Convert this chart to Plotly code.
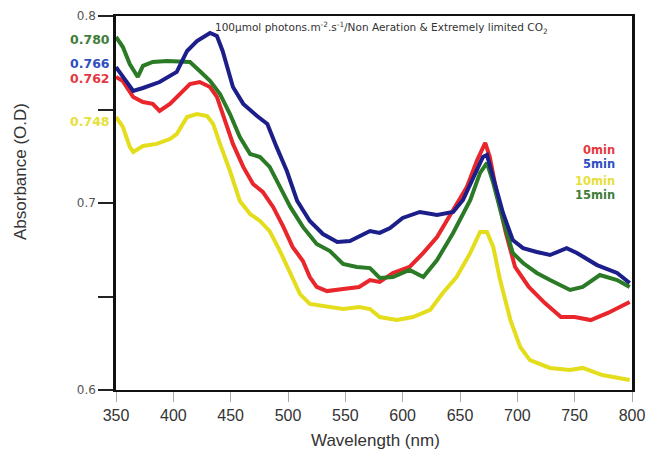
import plotly.graph_objects as go

# Wavelength (nm) / absorbance readings per series
wl_0min = [350, 356, 365, 373.5, 382, 388, 397, 406, 414.5, 423, 432, 438, 443, 452, 461, 469.5, 478, 487, 496, 504, 513, 519, 525, 534, 548, 562, 571.5, 580, 591.5, 606, 618, 630, 644, 656, 665, 672, 676, 682, 690, 698, 710, 724, 738, 750, 764, 779, 798]
abs_0min = [0.7674, 0.7652, 0.7567, 0.7540, 0.7530, 0.7492, 0.7530, 0.7583, 0.7636, 0.7647, 0.7620, 0.7567, 0.7476, 0.7316, 0.7193, 0.7102, 0.7059, 0.6979, 0.6872, 0.6765, 0.6690, 0.6604, 0.6551, 0.6529, 0.6540, 0.6551, 0.6588, 0.6578, 0.6626, 0.6658, 0.6733, 0.6818, 0.6963, 0.7086, 0.7230, 0.7321, 0.7246, 0.7054, 0.6840, 0.6658, 0.6551, 0.6465, 0.6390, 0.6390, 0.6374, 0.6412, 0.6471]

wl_5min = [350, 356, 365, 373.5, 388, 403, 412, 420.6, 432, 438, 443, 452, 461, 473, 482, 490, 499, 508, 519, 530.5, 543, 554, 571.5, 580, 589, 600, 615, 630, 644, 652.6, 661, 670, 673.5, 679, 687.5, 696, 705, 717, 728.5, 743, 752, 769.5, 787, 798]
abs_5min = [0.7727, 0.7679, 0.7599, 0.7615, 0.7647, 0.7701, 0.7813, 0.7866, 0.7909, 0.7893, 0.7813, 0.7620, 0.7530, 0.7465, 0.7423, 0.7300, 0.7171, 0.7011, 0.6904, 0.6834, 0.6792, 0.6797, 0.6850, 0.6840, 0.6866, 0.6920, 0.6952, 0.6936, 0.6952, 0.7016, 0.7123, 0.7246, 0.7257, 0.7139, 0.6947, 0.6802, 0.6759, 0.6738, 0.6722, 0.6759, 0.6733, 0.6668, 0.6626, 0.6572]

wl_10min = [350, 356, 362, 365, 373.5, 385.5, 397, 403, 412, 420.6, 429.5, 434.7, 440.7, 449.4, 458, 467, 475.6, 484, 493, 502, 510.5, 519, 534, 548, 562, 571.5, 580, 595, 609, 624, 635, 647, 659, 667.5, 673.5, 679, 685, 694, 702.5, 711, 728.5, 746, 757, 774, 798]
abs_10min = [0.7460, 0.7407, 0.7300, 0.7273, 0.7305, 0.7316, 0.7342, 0.7369, 0.7460, 0.7476, 0.7465, 0.7423, 0.7316, 0.7171, 0.7011, 0.6941, 0.6904, 0.6850, 0.6743, 0.6620, 0.6513, 0.6460, 0.6444, 0.6433, 0.6444, 0.6433, 0.6390, 0.6374, 0.6390, 0.6428, 0.6519, 0.6604, 0.6733, 0.6845, 0.6845, 0.6765, 0.6588, 0.6374, 0.6230, 0.6160, 0.6118, 0.6107, 0.6118, 0.6080, 0.6053]

wl_15min = [350, 356, 362, 369, 373.5, 382, 394.5, 406, 414.5, 423, 432, 440.7, 449.4, 458, 467, 475.6, 484, 493, 502, 513, 525, 536.6, 548, 560, 571.5, 580, 591.5, 606, 618, 630, 644, 659, 667.5, 673.5, 679, 687.5, 696, 705, 717, 728.5, 746, 757, 772, 787, 798]
abs_15min = [0.7888, 0.7834, 0.7743, 0.7674, 0.7733, 0.7754, 0.7759, 0.7759, 0.7754, 0.7706, 0.7653, 0.7583, 0.7476, 0.7353, 0.7262, 0.7246, 0.7193, 0.7086, 0.6979, 0.6872, 0.6781, 0.6743, 0.6674, 0.6658, 0.6652, 0.6599, 0.6604, 0.6642, 0.6604, 0.6695, 0.6840, 0.7016, 0.7161, 0.7214, 0.7107, 0.6909, 0.6733, 0.6679, 0.6626, 0.6588, 0.6535, 0.6551, 0.6615, 0.6588, 0.6551]

series_names = ["0min", "5min", "10min", "15min"]
line_colors = ["#e8262b", "#1c1f8a", "#e3dd1c", "#2a7a26"]
label_colors = ["#e43a3f", "#2f4fc0", "#e6e03a", "#3f7d3a"]

start_labels = ["0.780", "0.766", "0.762", "0.748"]
start_label_colors = ["#3f7d3a", "#2f4fc0", "#e43a3f", "#e6e03a"]

y_tickvals = [0.6, 0.65, 0.7, 0.75, 0.8]
y_ticktext = ["0.6", "", "0.7", "", "0.8"]
x_tickvals = [350, 400, 450, 500, 550, 600, 650, 700, 750, 800]

title_text = "100μmol photons.m<sup>-2</sup>.s<sup>-1</sup>/Non Aeration &amp; Extremely limited CO<sub>2</sub>"

fig = go.Figure()
data = [(wl_10min, abs_10min, 2), (wl_0min, abs_0min, 0), (wl_15min, abs_15min, 3), (wl_5min, abs_5min, 1)]
for xs, ys, i in data:
    fig.add_trace(go.Scatter(x=xs, y=ys, mode="lines", name=series_names[i],
                             line=dict(color=line_colors[i], width=4, shape="linear")))

W, H = 651, 456
ml, mr, mt, mb = 116, 19, 16, 66
PW = W - ml - mr
PH = H - mt - mb

fig.update_layout(
    width=W, height=H,
    margin=dict(l=ml, r=mr, t=mt, b=mb, autoexpand=False),
    paper_bgcolor="white", plot_bgcolor="white",
    showlegend=False,
    xaxis=dict(range=[350, 800], tickvals=x_tickvals, ticks="outside", ticklen=10,
               tickcolor="#aaaaaa", tickwidth=1, showgrid=False, zeroline=False,
               showline=True, linecolor="#111111", linewidth=2, mirror=True,
               tickfont=dict(family="Liberation Sans", size=16, color="#333333")),
    yaxis=dict(range=[0.6, 0.8], tickvals=y_tickvals, ticktext=y_ticktext,
               ticks="outside", ticklen=15, tickcolor="#222222", tickwidth=1.5,
               showgrid=False, zeroline=False,
               showline=True, linecolor="#111111", linewidth=2.5, mirror=True,
               tickfont=dict(family="DejaVu Sans", size=12, color="#555555")),
)

def px_x(p):
    return (p - ml) / PW

def px_y(p):
    return (H - mb - p) / PH

ann = []
ann.append(dict(text=title_text, x=px_x(381), y=px_y(28), xref="paper", yref="paper",
                showarrow=False, xanchor="center", yanchor="middle",
                font=dict(family="DejaVu Sans", size=10.5, color="#333333")))
# left start-value labels
start_y = [39, 64, 78, 121]
for t, c, yy in zip(start_labels, start_label_colors, start_y):
    ann.append(dict(text="<b>" + t + "</b>", x=px_x(112), y=px_y(yy), xref="paper", yref="paper",
                    showarrow=False, xanchor="right", yanchor="middle",
                    font=dict(family="DejaVu Sans", size=12.5, color=c)))
# legend-like labels
leg_y = [150, 164, 181, 195]
for n, c, yy in zip(series_names, label_colors, leg_y):
    ann.append(dict(text="<b>" + n + "</b>", x=px_x(617), y=px_y(yy), xref="paper", yref="paper",
                    showarrow=False, xanchor="right", yanchor="middle",
                    font=dict(family="DejaVu Sans", size=11.5, color=c)))
# axis titles
ann.append(dict(text="Wavelength (nm)", x=px_x(375), y=px_y(440), xref="paper", yref="paper",
                showarrow=False, xanchor="center", yanchor="middle",
                font=dict(family="Liberation Sans", size=17, color="#333333")))
ann.append(dict(text="Absorbance (O.D)", x=px_x(20), y=px_y(172), xref="paper", yref="paper",
                showarrow=False, xanchor="center", yanchor="middle", textangle=-90,
                font=dict(family="Liberation Sans", size=17, color="#333333")))
fig.update_layout(annotations=ann)

fig.write_html("out.html", config={"displayModeBar": False},
               post_script="document.body.style.margin='0px';document.body.style.overflow='hidden';")
